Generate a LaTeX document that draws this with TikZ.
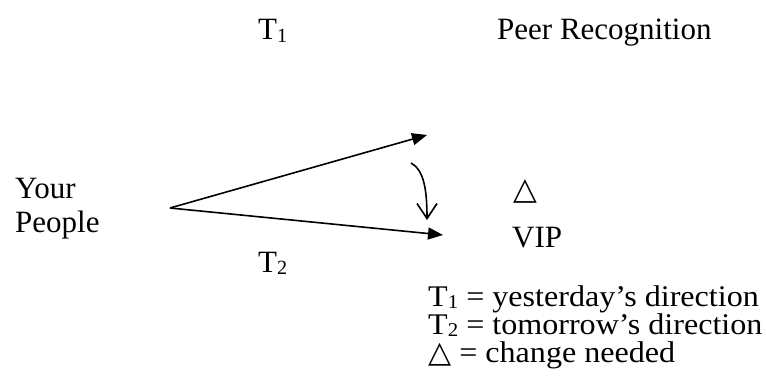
\documentclass[tikz,border=0pt]{standalone}
\usepackage{fontspec}
\setmainfont{Liberation Serif}
\newfontfamily\legfont[FakeStretch=1.07]{Liberation Serif}
\newfontfamily\symfont{DejaVu Sans}
\usetikzlibrary{arrows.meta}
\tikzset{
  lbl/.style={anchor=base west, inner sep=0pt, font=\fontsize{31}{36}\selectfont},
  leg/.style={lbl, font=\legfont\fontsize{30}{34}\selectfont},
  dirarrow/.style={-{Triangle[length=15pt,width=12pt]}, line width=1.6pt},
  shiftarrow/.style={-{Straight Barb[length=15pt,width=20pt]}, line width=1.6pt},
}
\newcommand{\chg}{{\symfont\char"25B3}}
\newcommand{\lowidx}[1]{\raisebox{-0.08em}{\fontsize{0.65em}{0.7em}\selectfont #1}}

\begin{document}
\begin{tikzpicture}[x=1pt, y=-1pt]
  \useasboundingbox (0,0) rectangle (766,385);

  % Top labels
  \node[lbl] (t1) at (258,40) {T\lowidx{1}};
  \node[lbl] (peer) at (497,40) {Peer Recognition};

  % Left side
  \node[lbl] (your) at (15,198) {Your};
  \node[lbl] (people) at (15,233) {People};

  % Directions
  \coordinate (orig) at (170,208);
  \coordinate (upper) at (427,135);
  \coordinate (lower) at (443,235);
  \draw[dirarrow] (orig) -- (upper);
  \draw[dirarrow] (orig) -- (lower);

  % Change
  \coordinate (cstart) at (411,163);
  \coordinate (cend) at (427,220);
  \draw[shiftarrow] (cstart) .. controls (424,170) and (427,190) .. (cend);

  \node[lbl] (delta) at (513,200) {\chg};
  \node[lbl] (vip) at (512,247) {VIP};
  \node[lbl] (t2) at (258,272) {T\lowidx{2}};

  % Legend
  \node[leg] (leg1) at (428,306) {T\lowidx{1} = yesterday’s direction};
  \node[leg] (leg2) at (428,334) {T\lowidx{2} = tomorrow’s direction};
  \node[leg] (leg3) at (428,362) {\chg{} = change needed};
\end{tikzpicture}
\end{document}
